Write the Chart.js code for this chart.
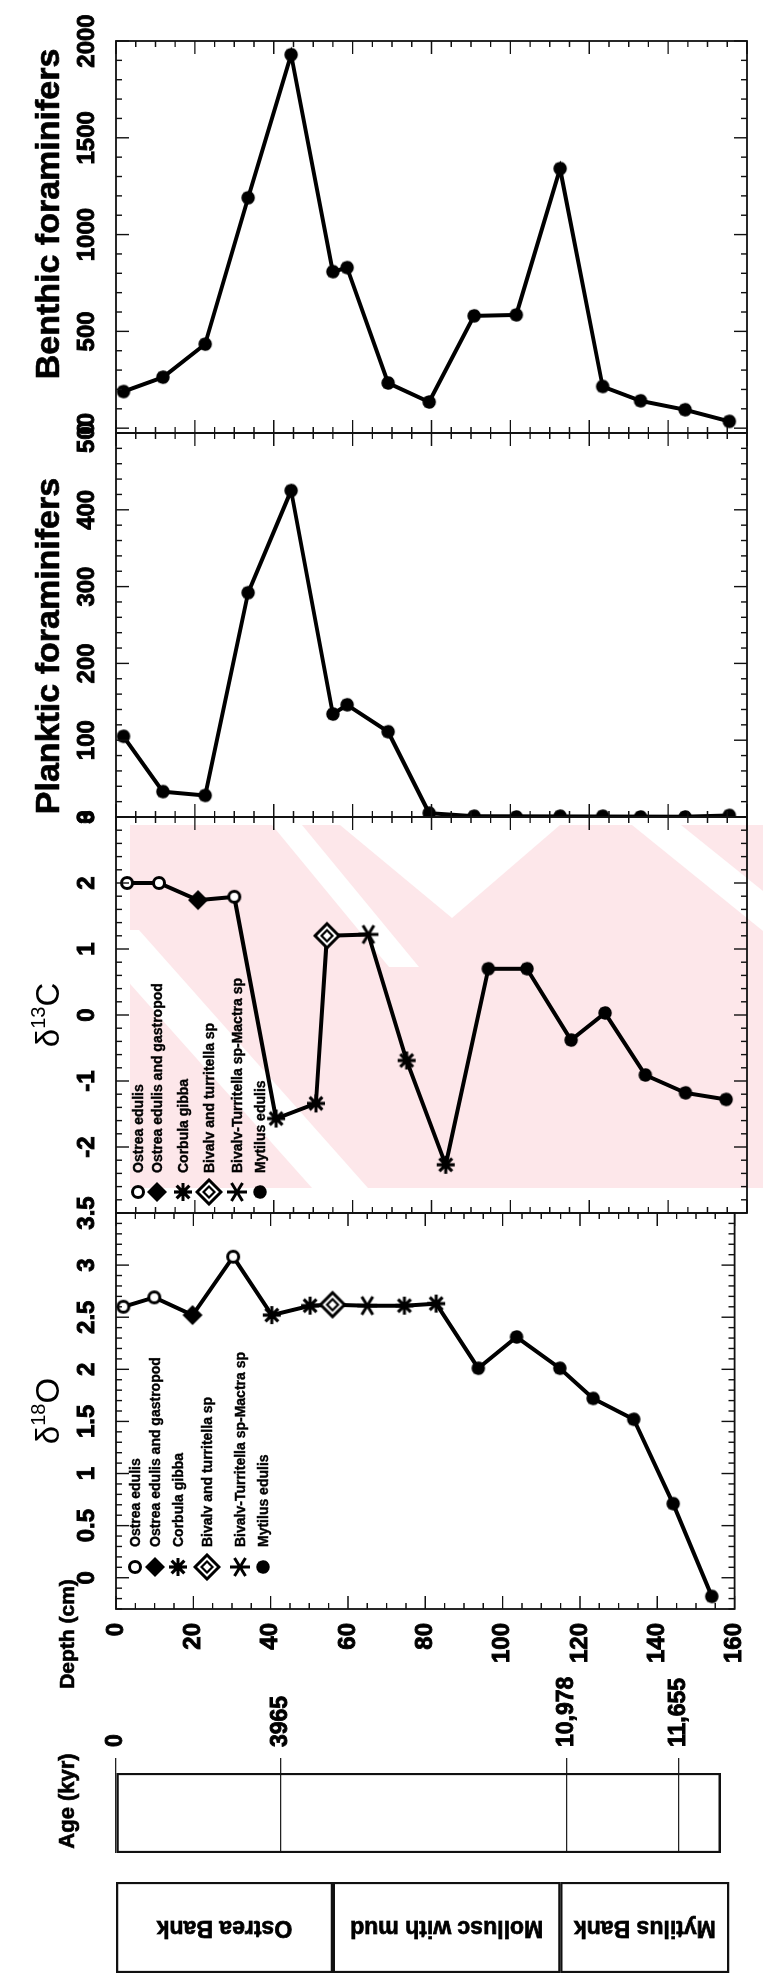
<!DOCTYPE html>
<html>
<head>
<meta charset="utf-8">
<title>Foraminifera and stable isotope record of the core</title>
<script src="https://cdn.jsdelivr.net/npm/chart.js@4.4.1/dist/chart.umd.min.js"></script>
<style>
  html, body { margin: 0; padding: 0; background: #fff; width: 763px; height: 1976px; overflow: hidden; }
  /* the log is laid out with depth running down, then turned a quarter turn */
  #sheet { position: absolute; left: 0; top: 0; width: 1976px; height: 763px; background: #fff;
           transform-origin: 0 0; transform: translate(0, 1976px) rotate(-90deg); }
  #sheet canvas { position: absolute; top: 0; }
</style>
</head>
<body>
<div id="sheet"></div>
<script>
// ---------------- data ----------------
// foraminifera counts (same samples for both groups), depth in cm
const foramDepth = [1.9, 11.9, 22.6, 33.5, 44.4, 55.0, 58.6, 69.0, 79.4, 90.8, 101.5, 112.6, 123.4, 133.0, 144.3, 155.5];
const benthic    = [189, 263, 434, 1190, 1929, 808, 829, 233, 135, 580, 585, 1341, 215, 141, 95, 35];
const planktic   = [105, 33, 28, 292, 425, 134, 146, 111, 5, 1, 0, 1, 1, 0, 0, 2];

// stable isotopes of shells (per mil)
const d13cDepth = [2.8, 10.9, 20.8, 30.0, 40.6, 50.7, 53.5, 64.0, 73.7, 83.6, 94.4, 104.2, 115.4, 124.0, 134.2, 144.4, 154.7];
const d13c      = [2.0, 2.0, 1.74, 1.79, -1.57, -1.34, 1.20, 1.22, -0.69, -2.27, 0.70, 0.70, -0.38, 0.03, -0.91, -1.18, -1.28];
const d18oDepth = [1.9, 9.9, 19.8, 30.3, 40.3, 50.2, 56.0, 65.0, 74.6, 82.8, 93.7, 103.6, 114.8, 123.4, 133.9, 144.1, 154.1];
const d18o      = [2.60, 2.69, 2.52, 3.08, 2.52, 2.61, 2.62, 2.61, 2.61, 2.63, 2.01, 2.31, 2.01, 1.72, 1.52, 0.71, -0.18];

// shell material measured at each isotope sample (index into shellTaxa)
const shellTaxa = ['Ostrea edulis', 'Ostrea edulis and gastropod', 'Corbula gibba',
                   'Bivalv and turritella sp', 'Bivalv-Turritella sp-Mactra sp', 'Mytilus edulis'];
const d13cTaxon = [0, 0, 1, 0, 2, 2, 3, 4, 2, 2, 5, 5, 5, 5, 5, 5, 5];
const d18oTaxon = [0, 0, 1, 0, 2, 2, 3, 4, 2, 2, 5, 5, 5, 5, 5, 5, 5];

// axis ticks
const depthTicks    = [0, 20, 40, 60, 80, 100, 120, 140, 160];
const benthicTicks  = [0, 500, 1000, 1500, 2000];
const plankticTicks = [0, 100, 200, 300, 400, 500];
const d13cTicks     = [-2, -1, 0, 1, 2, 3];
const d18oTicks     = [0, 0.5, 1, 1.5, 2, 2.5, 3, 3.5];

// age model: depth of each dated level and its age label
const ageDepth  = [0, 42.3, 115.9, 144.7];
const ageLabels = ['0', '3965', '10,978', '11,655'];
const coreBase  = 155.5;

// lithological units
const unitNames = ['Ostrea Bank', 'Mollusc with mud', 'Mytilus Bank'];
const unitTop   = [0, 55.0, 112.7];
const unitBase  = [55.0, 112.7, 155.5];

// ---------------- drawing ----------------
const FONT = "'Liberation Sans', Arial, Helvetica, sans-serif";
Chart.defaults.font.family = FONT;
Chart.defaults.color = '#000';

const H = 763, TOP = 116, BOT = 747;      // plot band inside the sheet
const sheet = document.getElementById('sheet');

function makeCanvas(left, width) {
  const c = document.createElement('canvas');
  c.width = width; c.height = H;
  c.style.left = left + 'px';
  c.style.width = width + 'px'; c.style.height = H + 'px';
  sheet.appendChild(c);
  return c;
}

// marker images for each shell type
function symbol(draw) {
  const c = document.createElement('canvas');
  c.width = c.height = 32;
  const g = c.getContext('2d');
  g.translate(16, 16);
  g.strokeStyle = '#000'; g.fillStyle = '#000'; g.lineCap = 'butt';
  draw(g);
  return c;
}
function diamondPath(g, r) {
  g.beginPath(); g.moveTo(0, -r); g.lineTo(r, 0); g.lineTo(0, r); g.lineTo(-r, 0); g.closePath();
}
const SYMBOLS = [
  symbol(g => { g.beginPath(); g.arc(0, 0, 5.5, 0, 2 * Math.PI); g.fillStyle = '#fff'; g.fill(); g.lineWidth = 3; g.stroke(); }),
  symbol(g => { diamondPath(g, 10); g.fill(); }),
  symbol(g => {
    g.lineWidth = 3.2; g.beginPath();
    for (let k = 0; k < 4; k++) {
      const t = k * Math.PI / 4, c = 9 * Math.cos(t), s = 9 * Math.sin(t);
      g.moveTo(-c, -s); g.lineTo(c, s);
    }
    g.stroke();
    g.beginPath(); g.arc(0, 0, 3.5, 0, 2 * Math.PI); g.fill();
  }),
  symbol(g => {
    diamondPath(g, 12); g.fillStyle = '#fff'; g.fill(); g.lineWidth = 3; g.stroke();
    diamondPath(g, 5.5); g.lineWidth = 2.2; g.stroke();
  }),
  symbol(g => {
    g.lineWidth = 3; g.beginPath();
    g.moveTo(0, -10); g.lineTo(0, 10);
    g.moveTo(-9, -5.5); g.lineTo(9, 5.5);
    g.moveTo(-9, 5.5); g.lineTo(9, -5.5);
    g.stroke();
  }),
  symbol(g => { g.beginPath(); g.arc(0, 0, 6.8, 0, 2 * Math.PI); g.fill(); })
];
const DOT = SYMBOLS[5];

// box round the plot with inward ticks on all four sides
function frameTicks(xMinor, xMajor) {
  return {
    id: 'frameTicks',
    afterDatasetsDraw(chart) {
      const { ctx, chartArea: a, scales } = chart;
      ctx.save();
      ctx.strokeStyle = '#111';
      ctx.lineWidth = 1.8;
      ctx.strokeRect(a.left, a.top, a.right - a.left, a.bottom - a.top);
      ctx.lineWidth = 1.4;
      const marks = (scale, minor, major, horizontal) => {
        const n0 = Math.ceil(scale.min / minor - 1e-9), n1 = Math.floor(scale.max / minor + 1e-9);
        ctx.beginPath();
        for (let i = n0; i <= n1; i++) {
          const v = i * minor, r = v / major;
          const len = Math.abs(r - Math.round(r)) < 1e-6 ? 13 : 6;
          const p = scale.getPixelForValue(v);
          if (horizontal) {
            ctx.moveTo(p, a.top); ctx.lineTo(p, a.top + len);
            ctx.moveTo(p, a.bottom); ctx.lineTo(p, a.bottom - len);
          } else {
            ctx.moveTo(a.left, p); ctx.lineTo(a.left + len, p);
            ctx.moveTo(a.right, p); ctx.lineTo(a.right - len, p);
          }
        }
        ctx.stroke();
      };
      marks(scales.x, xMinor, xMajor, true);
      marks(scales.y, 5, 20, false);
      ctx.restore();
    }
  };
}

// free text (titles) given as runs, so superscripts can be set
function captions(items) {
  return {
    id: 'captions',
    afterDraw(chart) {
      const ctx = chart.ctx;
      ctx.save();
      ctx.fillStyle = '#000';
      ctx.strokeStyle = '#000';
      ctx.lineWidth = 0.7;
      ctx.textBaseline = 'alphabetic';
      items.forEach(it => {
        const pos = it.at(chart.chartArea);
        let w = 0;
        it.runs.forEach(r => { ctx.font = r.font; w += ctx.measureText(r.text).width; });
        let x = pos.x - w / 2;
        it.runs.forEach(r => {
          ctx.font = r.font;
          ctx.fillText(r.text, x, pos.y + (r.dy || 0));
          if (r.heavy) ctx.strokeText(r.text, x, pos.y + (r.dy || 0));
          x += ctx.measureText(r.text).width;
        });
      });
      ctx.restore();
    }
  };
}

// key of shell types inside an isotope panel
function shellKey(symX, textX, rows) {
  return {
    id: 'shellKey',
    afterDatasetsDraw(chart) {
      const { ctx, chartArea: a } = chart;
      ctx.save();
      ctx.font = 'bold 14px ' + FONT;
      ctx.fillStyle = '#000';
      ctx.strokeStyle = '#000';
      ctx.lineWidth = 0.4;
      ctx.textBaseline = 'middle';
      shellTaxa.forEach((name, i) => {
        const img = SYMBOLS[i];
        ctx.drawImage(img, a.left + symX - img.width / 2, rows[i] - img.height / 2);
        ctx.fillText(name, a.left + textX, rows[i] + 1);
        ctx.strokeText(name, a.left + textX, rows[i] + 1);
      });
      ctx.restore();
    }
  };
}

const tickFont = { size: 24, weight: 'bold' };
const tickStyle = { autoSkip: false, font: tickFont, color: '#000', textStrokeColor: '#000', textStrokeWidth: 0.9 };

function profile(cfg) {
  const padL = cfg.depthAxis ? 130 : 45, padR = 45;
  const canvas = makeCanvas(cfg.left - padL, cfg.right - cfg.left + padL + padR);
  const points = cfg.depth.map((d, i) => ({ x: cfg.values[i], y: d }));
  const yScale = { type: 'linear', position: 'left', reverse: true, min: 0, max: 160, display: false };
  if (cfg.depthAxis) {
    Object.assign(yScale, {
      display: true,
      afterBuildTicks: s => { s.ticks = depthTicks.map(v => ({ value: v })); },
      afterFit: s => { s.width = padL; },
      grid: { display: false, drawTicks: false },
      border: { display: false },
      ticks: Object.assign({ padding: 14, callback: v => String(v) }, tickStyle)
    });
  }
  return new Chart(canvas, {
    type: 'line',
    data: {
      datasets: [{
        data: points,
        borderColor: '#000',
        borderWidth: 4,
        tension: 0,
        pointStyle: cfg.marker,
        pointRadius: 7,
        pointHoverRadius: 7
      }]
    },
    options: {
      responsive: false,
      animation: false,
      devicePixelRatio: 1,
      indexAxis: 'y',
      events: [],
      layout: { padding: { left: cfg.depthAxis ? 0 : padL, right: padR, top: 0, bottom: H - BOT } },
      plugins: { legend: { display: false }, tooltip: { enabled: false } },
      scales: {
        x: {
          type: 'linear', position: 'top', min: cfg.min, max: cfg.max,
          afterBuildTicks: s => { s.ticks = cfg.ticks.map(v => ({ value: v })); },
          afterFit: s => { s.height = TOP; },
          grid: { display: false, drawTicks: false },
          border: { display: false },
          ticks: Object.assign({ maxRotation: 0, minRotation: 0, padding: 14, callback: v => String(v) }, tickStyle),
          title: { display: false }
        },
        y: yScale
      }
    },
    plugins: [frameTicks(cfg.minor, cfg.major)].concat(cfg.extras || [])
  });
}

const markers = taxa => taxa.map(t => SYMBOLS[t]);
const panelTitle = (text, shift) => captions([{
  at: a => ({ x: (a.left + a.right) / 2 + shift, y: 59 }),
  runs: [{ text, font: 'bold 34px ' + FONT, heavy: true }]
}]);
const deltaTitle = (mass, el) => captions([{
  at: a => ({ x: (a.left + a.right) / 2, y: 59 }),
  runs: [
    { text: 'δ', font: '33px ' + FONT },
    { text: mass, font: '20px ' + FONT, dy: -14 },
    { text: el, font: '33px ' + FONT }
  ]
}]);

// faint pink print-through behind the carbon isotope panel
const printThrough = {
  id: 'printThrough',
  beforeDatasetsDraw(chart) {
    const { ctx } = chart;
    const L = chart.chartArea.left;
    ctx.save();
    ctx.beginPath(); ctx.rect(L + 25, 130, 363, 633); ctx.clip();
    ctx.fillStyle = '#fde7ea';
    ctx.fillRect(L + 25, 130, 363, 633);
    ctx.fillStyle = '#fff';
    const cut = pts => {
      ctx.beginPath();
      pts.forEach((p, i) => i ? ctx.lineTo(L + p[0], p[1]) : ctx.moveTo(L + p[0], p[1]));
      ctx.closePath(); ctx.fill();
    };
    cut([[388, 340], [388, 560], [295, 452]]);                 // notch of the chevron
    cut([[283, 82], [283, 139], [25, 368], [25, 312]]);        // lower band
    cut([[388, 272], [388, 302], [246, 419], [246, 389]]);     // middle band
    cut([[388, 632], [388, 681], [322, 763], [282, 763]]);     // right band
    ctx.restore();
  }
};

// benthic foraminifera
profile({ left: 1543, right: 1935, depth: foramDepth, values: benthic, min: -25, max: 2000,
          ticks: benthicTicks, minor: 100, major: 500, marker: DOT,
          extras: [panelTitle('Benthic foraminifers', 23)] });
// planktic foraminifera
profile({ left: 1159, right: 1543, depth: foramDepth, values: planktic, min: 0, max: 500,
          ticks: plankticTicks, minor: 20, major: 100, marker: DOT,
          extras: [panelTitle('Planktic foraminifers', -21)] });
// carbon isotopes
profile({ left: 763, right: 1159, depth: d13cDepth, values: d13c, min: -3, max: 3,
          ticks: d13cTicks, minor: 0.2, major: 1, marker: markers(d13cTaxon),
          extras: [printThrough, deltaTitle('13', 'C'), shellKey(21, 40, [138, 157, 183, 209, 237, 260])] });
// oxygen isotopes, carrying the depth scale
profile({ left: 367, right: 763, depth: d18oDepth, values: d18o, min: -0.3, max: 3.5,
          ticks: d18oTicks, minor: 0.1, major: 0.5, marker: markers(d18oTaxon), depthAxis: true,
          extras: [deltaTitle('18', 'O'), shellKey(42, 62, [135, 155, 178, 207, 240, 263]),
                   captions([{ at: a => ({ x: a.left - 25, y: 74 }), runs: [{ text: 'Depth (cm)', font: 'bold 21px ' + FONT, heavy: true }] }])] });

// age column
(function () {
  const left = 118, width = 205, areaL = 123, areaR = 203;
  new Chart(makeCanvas(left, width), {
    type: 'bar',
    data: {
      labels: [''],
      datasets: [{ data: [[0, coreBase]], backgroundColor: 'rgba(0,0,0,0)', borderColor: '#111',
                   borderWidth: 1.8, borderSkipped: false, barPercentage: 1, categoryPercentage: 1 }]
    },
    options: {
      responsive: false, animation: false, devicePixelRatio: 1, events: [],
      layout: { padding: { left: areaL - left, right: 0, top: TOP, bottom: H - BOT } },
      plugins: { legend: { display: false }, tooltip: { enabled: false } },
      scales: {
        x: { type: 'category', display: false },
        y: {
          type: 'linear', position: 'right', reverse: true, min: 0, max: 160,
          afterBuildTicks: s => { s.ticks = ageDepth.map(v => ({ value: v })); },
          afterFit: s => { s.width = left + width - areaR; },
          grid: { display: true, drawOnChartArea: true, drawTicks: true, tickLength: 15, color: '#222', lineWidth: 1.3 },
          border: { display: false },
          ticks: { autoSkip: false, padding: 11, font: { size: 23, weight: 'bold' }, color: '#000',
                   textStrokeColor: '#000', textStrokeWidth: 0.9, callback: (v, i) => ageLabels[i] }
        }
      }
    },
    plugins: [captions([{ at: () => ({ x: 57, y: 74 }), runs: [{ text: 'Age (kyr)', font: 'bold 22px ' + FONT, heavy: true }] }])]
  });
})();

// lithology column
(function () {
  const unitText = {
    id: 'unitText',
    afterDatasetsDraw(chart) {
      const ctx = chart.ctx;
      ctx.save();
      ctx.font = 'bold 23px ' + FONT;
      ctx.fillStyle = '#000';
      ctx.strokeStyle = '#000';
      ctx.lineWidth = 0.7;
      ctx.textAlign = 'center';
      ctx.textBaseline = 'middle';
      chart.data.datasets.forEach((ds, i) => {
        const c = chart.getDatasetMeta(i).data[0].getCenterPoint();
        ctx.save();
        ctx.translate(c.x, c.y);
        ctx.rotate(-Math.PI / 2);
        ctx.fillText(ds.label, 0, 0);
        ctx.strokeText(ds.label, 0, 0);
        ctx.restore();
      });
      ctx.restore();
    }
  };
  new Chart(makeCanvas(0, 100), {
    type: 'bar',
    data: {
      labels: [''],
      datasets: unitNames.map((name, i) => ({
        label: name, data: [[unitTop[i], unitBase[i]]], grouped: false,
        backgroundColor: 'rgba(0,0,0,0)', borderColor: '#111', borderWidth: 1.8, borderSkipped: false,
        barPercentage: 1, categoryPercentage: 1
      }))
    },
    options: {
      responsive: false, animation: false, devicePixelRatio: 1, events: [],
      layout: { padding: { left: 3, right: 6, top: TOP, bottom: H - BOT } },
      plugins: { legend: { display: false }, tooltip: { enabled: false } },
      scales: {
        x: { type: 'category', display: false },
        y: { type: 'linear', reverse: true, min: 0, max: 160, display: false }
      }
    },
    plugins: [unitText]
  });
})();
</script>
</body>
</html>
